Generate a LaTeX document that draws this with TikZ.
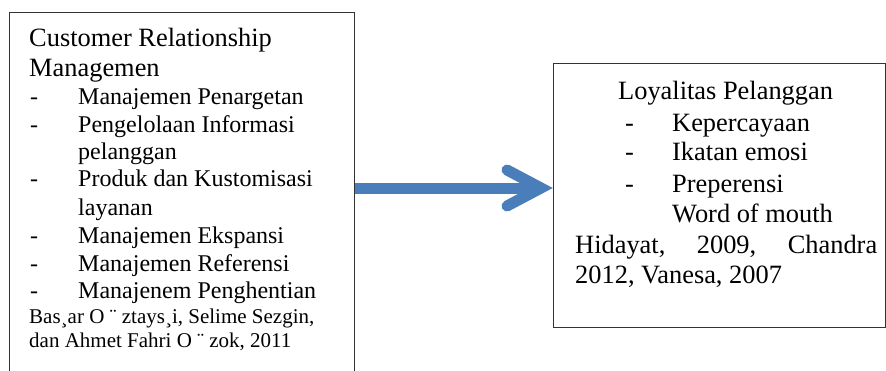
\documentclass[tikz,border=0pt]{standalone}
\usepackage{fontspec}
\setmainfont{Liberation Serif}
\usetikzlibrary{positioning}
\definecolor{arrowblue}{RGB}{74,126,187}

\begin{document}
\begin{tikzpicture}[x=1pt, y=-1pt]
	\tikzset{box/.style={draw=black!80, line width=1.2pt, inner sep=0pt},
		titletext/.style={anchor=base west, inner sep=0pt, font=\fontsize{26.4}{30}\selectfont},
		itemtext/.style={anchor=base west, inner sep=0pt, font=\fontsize{24}{28}\selectfont},
		citetext/.style={anchor=base west, inner sep=0pt, font=\fontsize{21}{24}\selectfont},
		arrowline/.style={draw=arrowblue, line width=11pt} }
	\useasboundingbox (0,0) rectangle (886,370);

	% boxes
	\node[box, anchor=north west, minimum width=345pt, minimum height=375pt] (crm) at (9,12) {};
	\node[box, anchor=north west, minimum width=332pt, minimum height=264pt] (loyal) at (553,63) {};

	% left box text
	\node[titletext] (crmtitle) at (29,46) {Customer Relationship};
	\node[titletext] (crmtitle2) at (29,76) {Managemen};
	\foreach \y [count=\i] in {104,132,186,243,271,298}
		\node[itemtext] (crmdash\i) at (30,\y) {-};
	\foreach \y/\t [count=\i] in {104/Manajemen Penargetan, 132/Pengelolaan Informasi, 159/pelanggan,
		186/Produk dan Kustomisasi, 215/layanan, 243/Manajemen Ekspansi, 271/Manajemen Referensi,
		298/Manajenem Penghentian}
		\node[itemtext] (crmitem\i) at (78,\y) {\t};
	\node[citetext] (crmsrc1) at (29,323) {Bas¸ar O ¨ ztays¸i, Selime Sezgin,};
	\node[citetext] (crmsrc2) at (29,347) {dan Ahmet Fahri O ¨ zok, 2011};

	% right box text
	\node[titletext] (loyaltitle) at (618,99) {Loyalitas Pelanggan};
	\foreach \y [count=\i] in {131,160,192}
		\node[titletext] (loyaldash\i) at (625,\y) {-};
	\foreach \y/\t [count=\i] in {131/Kepercayaan, 160/Ikatan emosi, 192/Preperensi, 222/Word of mouth}
		\node[titletext] (loyalitem\i) at (672,\y) {\t};
	\node[titletext] (loyalsrc1) at (575,253) {\makebox[302pt][s]{Hidayat, 2009, Chandra}};
	\node[titletext] (loyalsrc2) at (575,283) {2012, Vanesa, 2007};

	% arrow
	\coordinate (tip) at (541,188);
	\draw[arrowline] (crm.east |- tip) -- (tip);
	\draw[arrowline, line cap=round, line join=miter] ([shift={(-34,-18)}]tip) -- (tip) -- ([shift={(-34,18)}]tip);
\end{tikzpicture}
\end{document}
